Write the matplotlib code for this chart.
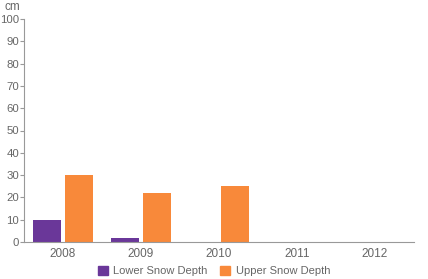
import numpy as np
import matplotlib
matplotlib.use('Agg')
import matplotlib.pyplot as plt
from matplotlib.patches import Patch

plt.rcParams['font.family'] = ['Liberation Sans', 'DejaVu Sans']

years = ['2008', '2009', '2010', '2011', '2012']
lower = [10, 2, 0, 0, 0]
upper = [30, 22, 25, 0, 0]
purple = '#6a3799'
orange = '#f8893a'
grey = '#999999'
txt = '#666666'

fig = plt.figure(figsize=(4.28, 2.79), dpi=100)
ax = fig.add_axes([24/428, 37/279, 390/428, 223/279])

x = np.arange(len(years))
w = 0.36
ax.bar(x - 0.2, lower, w, color=purple)
ax.bar(x + 0.2, upper, w, color=orange)

ax.set_xlim(-0.5, 4.5)
ax.set_ylim(0, 100)
ax.set_yticks(range(0, 101, 10))
ax.set_xticks(x)
ax.set_xticklabels(years)
for s in ['top', 'right']:
    ax.spines[s].set_visible(False)
for s in ['left', 'bottom']:
    ax.spines[s].set_color(grey)
ax.tick_params(axis='y', length=3, color=grey, labelcolor=txt, labelsize=8.2, pad=0.5)
ax.tick_params(axis='x', length=0, labelcolor=txt, labelsize=8.5, pad=4)
ax.text(-0.05, 1.025, 'cm', transform=ax.transAxes, ha='left', va='bottom',
        fontsize=8.5, color=txt)

handles = [Patch(color=purple, label='Lower Snow Depth'),
           Patch(color=orange, label='Upper Snow Depth')]
fig.legend(handles=handles, loc='center', bbox_to_anchor=(0.5, 8/279), ncol=2,
           frameon=False, fontsize=8, labelcolor=txt, handlelength=0.9,
           handleheight=0.9, handletextpad=0.5, columnspacing=1.1)

fig.savefig('out.png', dpi=100)
